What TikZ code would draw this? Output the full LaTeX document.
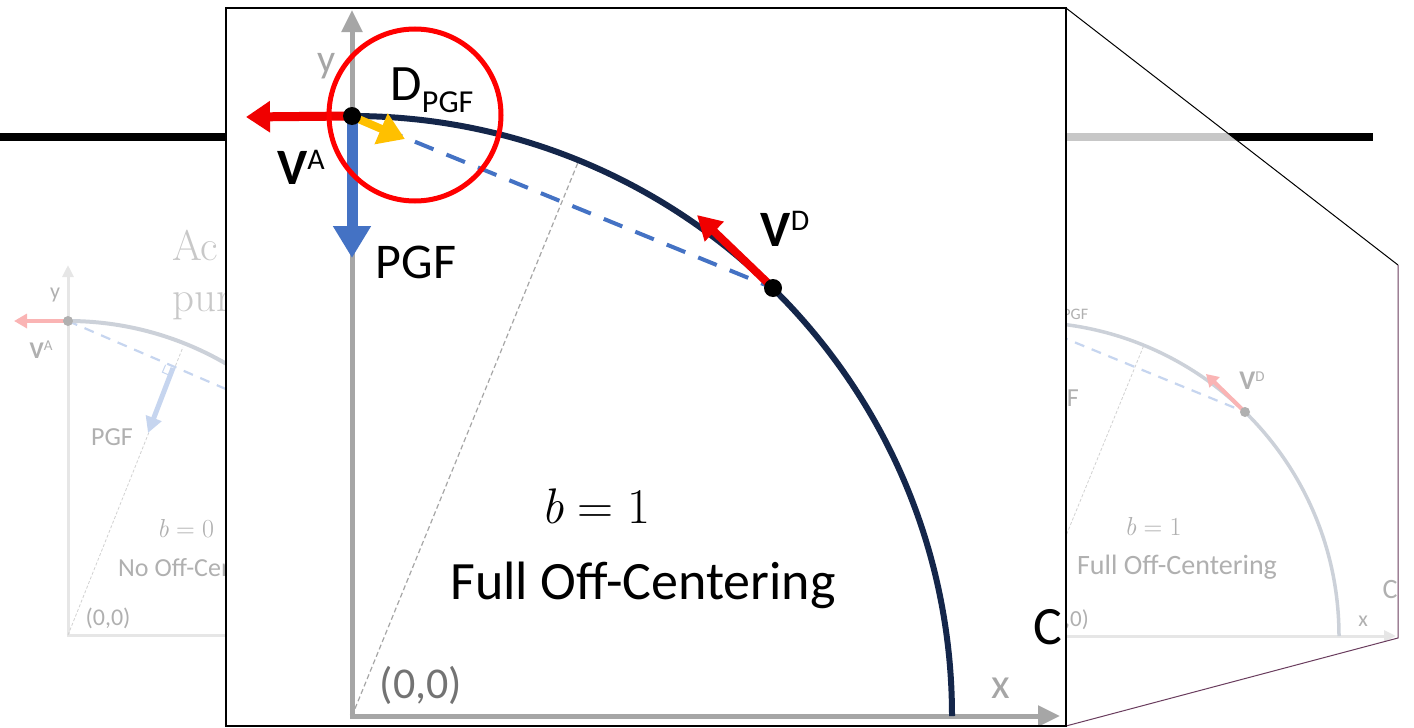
\documentclass[tikz,border=0pt]{standalone}
\usepackage{fontspec}
\setsansfont{Carlito}
\usetikzlibrary{arrows.meta}
\definecolor{arcnavy}{HTML}{14264A}
\definecolor{axgray}{HTML}{A6A6A6}
\definecolor{pgfblue}{HTML}{4472C4}
\definecolor{vred}{HTML}{F00000}
\definecolor{dyellow}{HTML}{FFC000}
\definecolor{zoomline}{HTML}{6A3D5E}
\definecolor{fadearc}{HTML}{CCD1D9}
\definecolor{fadeax}{HTML}{E6E6E6}
\definecolor{fadered}{HTML}{FAB4B4}
\definecolor{fadeblue}{HTML}{C6D5EF}
\definecolor{fadetxt}{HTML}{B0B0B0}
\definecolor{fadetitle}{HTML}{C8C8C8}
\newcommand\fsz[1]{\fontsize{#1}{#1}\selectfont}
\tikzset{
  lbl/.style={inner sep=0pt,font=\sffamily},
  flbl/.style={lbl,text=fadetxt},
  axis/.style={draw=axgray,line width=5pt,-{Triangle[length=22pt,width=20pt]}},
  fadeaxis/.style={draw=fadeax,line width=3pt,-{Triangle[length=12pt,width=11pt]}},
  chord/.style={draw=pgfblue,line width=4pt,dash pattern=on 20pt off 14pt},
  fadechord/.style={draw=fadeblue,line width=2.2pt,dash pattern=on 10pt off 8pt},
  radial/.style={draw=axgray,line width=1.2pt,dash pattern=on 5pt off 3pt},
  faderadial/.style={draw=fadeax!80!gray,line width=0.8pt,dash pattern=on 3pt off 2pt},
}

\begin{document}
\begin{tikzpicture}[x=1pt,y=-1pt]
  \useasboundingbox (0,0) rectangle (1414,728);
  % faded slide behind the zoom
  \node[anchor=base west,inner sep=0pt,text=fadetitle,font=\fsz{43}] (ttl1) at (172,260) {Ac};
  \node[anchor=base west,inner sep=0pt,text=fadetitle,font=\fsz{43}] (ttl2) at (172,311) {pur};
  % b = 0 panel
  \coordinate (lO) at (68,635);
  \coordinate (lA) at (68,321);
  \draw[fadeaxis] (68,636.5) -- (68,265);
  \draw[fadeax,line width=3pt] (66.5,635) -- (300,635);
  \draw[faderadial] (lO) -- (183,347);
  \draw[fadechord] (lA) -- (300,421);
  \draw[fadearc,line width=4pt] (lA) arc[start angle=90,end angle=40,radius=314pt];
  \draw[fadeblue,line width=5pt,-{Triangle[length=16pt,width=16pt]}] (173,368) -- (148,433);
  \draw[fadeblue,line width=1pt] (165.6,364.8) -- (162.4,372.2) -- (169.8,375.4);
  \draw[fadered,line width=4pt,-{Triangle[length=13pt,width=14pt]}] (lA) -- (14,321);
  \fill[fadetxt] (lA) circle (5pt);
  \node[flbl,font=\sffamily\fsz{22}] (ly) at (55,295) {y};
  \node[flbl,font=\sffamily\fsz{24}] (lva) at (41,350) {\textbf{V}\raisebox{8pt}{\fsz{15}A}};
  \node[flbl,font=\sffamily\fsz{26}] (lpgf) at (112,437) {PGF};
  \node[flbl,font=\sffamily\fsz{24}] (lo) at (108,618) {(0,0)};
  \node[flbl,font=\fsz{26},anchor=west] (lb) at (157,529) {\textit{b}\hspace{.28em}=\hspace{.28em}0};
  \node[flbl,font=\sffamily\fsz{26},anchor=west] (lcap) at (118,570) {No Off-Centering};

  % title rule
  \draw[line width=8pt] (0,137) -- (1373,137);

  % zoom funnel
  \fill[white,opacity=0.78] (1066,8) -- (1398,265) -- (1398,638) -- (1066,726) -- cycle;

  % b = 1 panel (source of the zoom)
  \coordinate (rO) at (1025,636);
  \coordinate (rA) at (1025,322);
  \coordinate (rD) at (1245,412);
  \draw[fadeaxis] (1023.5,636) -- (1396,636);
  \draw[faderadial] (rO) -- (1144,345);
  \draw[fadechord] (rA) -- (rD);
  \draw[fadearc,line width=3.5pt] (rA) arc[start angle=90,end angle=0,radius=314pt];
  \draw[fadered,line width=4pt,-{Triangle[length=12pt,width=14pt]}] (rD) -- (1206,374);
  \fill[fadetxt] (rD) circle (5pt);
  \node[flbl,font=\sffamily\fsz{27}] (rdp) at (1067,308) {D\raisebox{-6pt}{\fsz{16}PGF}};
  \node[flbl,font=\sffamily\fsz{27}] (rvd) at (1252,381) {\textbf{V}\raisebox{8pt}{\fsz{15}D}};
  \node[flbl,font=\sffamily\fsz{26}] (rpgf) at (1058,398) {PGF};
  \node[flbl,font=\fsz{26}] (rb) at (1153,527) {\textit{b}\hspace{.28em}=\hspace{.28em}1};
  \node[flbl,font=\sffamily\fsz{28}] (rcap) at (1177,567) {Full Off-Centering};
  \node[flbl,font=\sffamily\fsz{23},anchor=east] (ro) at (1089,620) {(0,0)};
  \node[flbl,font=\sffamily\fsz{28}] (rc) at (1390,590) {C};
  \node[flbl,font=\sffamily\fsz{22}] (rx) at (1363,621) {x};

  \draw[line width=1pt] (1066,8) -- (1398,265);
  \draw[zoomline,line width=1pt] (1398,265) -- (1398,638) -- (1066,726);

  % zoomed inset
  \fill[white] (226,8) rectangle (1066,726);
  \begin{scope}
    \clip (226,8) rectangle (1066,726);
    \coordinate (O) at (352,716);
    \coordinate (A) at (352,116);
    \coordinate (D) at (773,288);
    \coordinate (M) at (579,160);
    \draw[axis] (352,718.5) -- (352,10);
    \draw[axis] (349.5,716) -- (1060,716);
    \draw[radial] (O) -- (M);
    \draw[chord] (A) -- (D);
    \draw[arcnavy,line width=6pt] (A) arc[start angle=90,end angle=0,radius=600pt];
    \draw[dyellow,line width=8pt,-{Triangle[length=26pt,width=32pt]}] (356,118) -- (405,139);
    \draw[vred,line width=9pt,-{Triangle[length=24pt,width=30pt]}] (A) -- (246,117);
    \draw[vred,line width=8pt,-{Triangle[length=24pt,width=26pt]}] (D) -- (697,215);
    \draw[pgfblue,line width=11pt,-{Triangle[length=32pt,width=36pt]}] (A) -- (352,258);
    \fill (A) circle (9pt);
    \fill (D) circle (9pt);
    \draw[red,line width=5pt] (415,115) circle (86pt);
    \node[lbl,font=\sffamily\fsz{40},text=axgray] (ylab) at (327,66) {y};
    \node[lbl,font=\sffamily\fsz{43},text=axgray] (xlab) at (1001,688) {x};
    \node[lbl,font=\sffamily\fsz{44},text=black!55] (olab) at (421,685) {(0,0)};
    \node[lbl,font=\sffamily\fsz{51}] (dlab) at (432,90) {D\raisebox{-12pt}{\fsz{32}PGF}};
    \node[lbl,font=\sffamily\fsz{51}] (valab) at (301,167) {\textbf{V}\raisebox{15pt}{\fsz{30}A}};
    \node[lbl,font=\sffamily\fsz{51}] (vdlab) at (785,229) {\textbf{V}\raisebox{16pt}{\fsz{30}D}};
    \node[lbl,font=\sffamily\fsz{50}] (pgflab) at (416,262) {PGF};
    \node[lbl,font=\fsz{50}] (blab) at (596,506) {\textit{b}\hspace{.28em}=\hspace{.28em}1};
    \node[lbl,font=\sffamily\fsz{54}] (caplab) at (643,585) {Full Off-Centering};
    \node[lbl,font=\sffamily\fsz{54}] (clab) at (1048,627) {C};
  \end{scope}
  \draw[line width=2pt] (226,8) rectangle (1066,726);
\end{tikzpicture}
\end{document}
